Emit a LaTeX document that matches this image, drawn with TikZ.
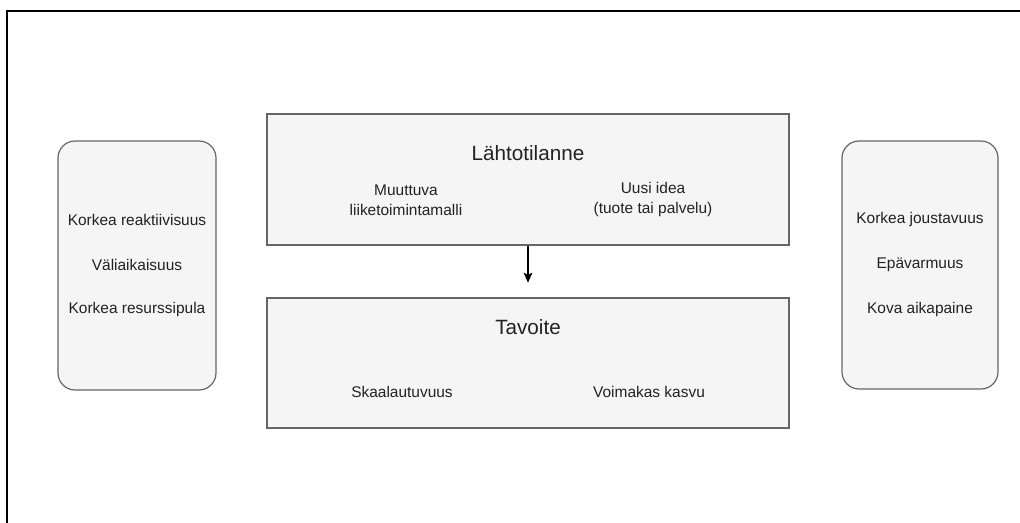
\documentclass[tikz,border=0pt]{standalone}
\usepackage{fontspec}
\setmainfont{Liberation Sans}
\usetikzlibrary{arrows.meta}
\definecolor{boxfill}{HTML}{F5F5F5}
\definecolor{boxline}{HTML}{666666}
\definecolor{ink}{HTML}{222222}
\tikzset{
  panel/.style={draw=boxline, fill=boxfill, line width=0.9pt, rectangle, inner sep=0pt},
  sidepanel/.style={panel, rounded corners=12.75pt},
  title/.style={text=ink, font=\fontsize{15.5}{18}\selectfont, inner sep=0pt, align=center},
  item/.style={text=ink, font=\fontsize{11.6}{15}\selectfont, inner sep=0pt, align=center},
  flow/.style={draw=black, line width=0.9pt, -{Stealth[length=7.5pt,width=6.5pt,inset=1.5pt]}, shorten >=11pt},
}
\begin{document}
\begin{tikzpicture}[x=0.75pt, y=-0.75pt]
\useasboundingbox (0,0) rectangle (1020,523);
% outer frame (top and left edges)
\draw[line width=1.2pt, black] (1020,11) -- (7,11) -- (7,523);

% side panels
\node[sidepanel, minimum width=118.5pt, minimum height=186.75pt] (left) at (137,265.5) {};
\node[sidepanel, minimum width=117pt, minimum height=186pt] (right) at (920,265) {};

% central panels
\node[panel, minimum width=391.5pt, minimum height=98.25pt] (start) at (528,179.5) {};
\node[panel, minimum width=391.5pt, minimum height=97.5pt] (goal) at (528,363) {};

% starting situation
\node[title] (startT) at (528,153) {Lähtotilanne};
\node[item] (startA) at (406,200) {Muuttuva\\liiketoimintamalli};
\node[item] (startB) at (653,200) {Uusi idea\\(tuote tai palvelu)};

% goal
\node[title] (goalT) at (528,327) {Tavoite};
\node[item] (goalA) at (402,392) {Skaalautuvuus};
\node[item] (goalB) at (649,392) {Voimakas kasvu};

% left panel items
\node[item] (l1) at (137,220) {Korkea reaktiivisuus};
\node[item] (l2) at (137,265) {Väliaikaisuus};
\node[item] (l3) at (137,310) {Korkea resurssipula};

% right panel items
\node[item] (r1) at (920,220) {Korkea joustavuus};
\node[item] (r2) at (920,265) {Epävarmuus};
\node[item] (r3) at (920,310) {Kova aikapaine};

% flow from start to goal
\draw[flow] (start.south) -- (goal.north);
\end{tikzpicture}
\end{document}
